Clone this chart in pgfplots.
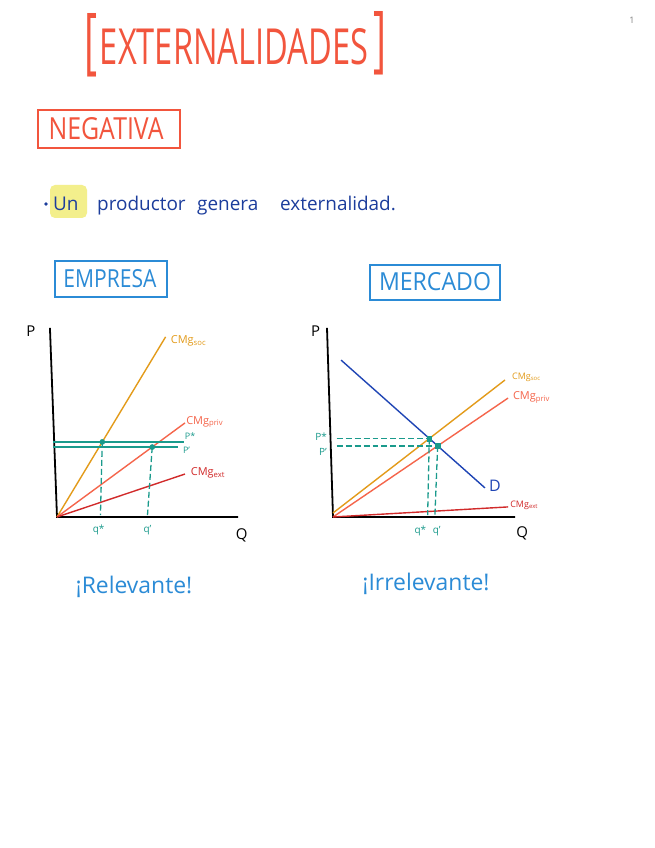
\documentclass[border=0pt]{standalone}
\usepackage{pgfplots}
\pgfplotsset{compat=1.18}
\usepackage{fontspec}
\setmainfont{Open Sans}
\definecolor{titlered}{HTML}{F2553D}
\definecolor{darkblue}{HTML}{1C3D9C}
\definecolor{hlyellow}{HTML}{F3EF8C}
\definecolor{lightblue}{HTML}{2B8BD6}
\definecolor{socorange}{HTML}{E39B1A}
\definecolor{privred}{HTML}{F5654B}
\definecolor{extred}{HTML}{D12A2A}
\definecolor{tealc}{HTML}{1A9A8C}
\definecolor{dblue}{HTML}{1F45B5}
\pgfplotsset{
  econ/.style={x=18.1bp, y=19bp, xmin=0, xmax=10, ymin=0, ymax=10,
    hide axis, clip=false, anchor=south west},
  curve/.style={no marks, line width=1.4pt},
  tdash/.style={no marks, tealc, line width=1.3pt, dash pattern=on 6pt off 3pt},
}
\begin{document}
\begin{tikzpicture}[x=1bp,y=1bp]
\fill[white] (0,0) rectangle (655,848);
\useasboundingbox (0,0) rectangle (655,848);
% page number
\node[gray, font=\fontsize{9}{10}\selectfont] at (632,828) {1};
% title
\node[titlered] at (91,803) {\resizebox{13bp}{52bp}{[}};
\node[titlered] at (234,801) {\resizebox{268bp}{36bp}{EXTERNALIDADES}};
\node[titlered] at (380,805) {\resizebox{13bp}{52bp}{]}};
% negativa
\draw[titlered, line width=1.2pt] (38,738) rectangle (180,700);
\node[titlered] at (106,719) {\resizebox{115bp}{22bp}{NEGATIVA}};
% bullet line
\fill[hlyellow, rounded corners=5pt] (50,630) rectangle (87,663);
\fill[darkblue] (46,644) circle (1.8);
\begin{scope}[every node/.style={darkblue, anchor=base west, inner sep=0pt, font=\fontsize{19}{22}\selectfont}]
\node at (53,637) {Un};
\node at (97,637) {productor};
\node at (197,637) {genera};
\node at (280,637) {externalidad.};
\end{scope}
% empresa / mercado
\draw[lightblue, line width=1.2pt] (55,587) rectangle (167,551);
\node[lightblue] at (110,569) {\resizebox{93bp}{18bp}{EMPRESA}};
\draw[lightblue, line width=1.2pt] (370,583) rectangle (500,548);
\node[lightblue] at (435,566) {\resizebox{112bp}{18bp}{MERCADO}};
% bottom remarks
\node[lightblue, font=\fontsize{23}{26}\selectfont] at (134,261) {¡Relevante!};
\node[lightblue, font=\fontsize{23}{26}\selectfont] at (426,264) {¡Irrelevante!};

% ---------- Left chart: Empresa ----------
\begin{axis}[econ, at={(57bp,331bp)}]
\addplot[curve, black, line width=1.8pt] coordinates {(-0.39,9.95) (0,0) (10,0)};
\addplot[curve, socorange] coordinates {(0,0) (6.0,9.48)};
\addplot[curve, privred] coordinates {(0,0) (7.07,4.95)};
\addplot[curve, extred] coordinates {(0,0) (7.07,2.26)};
\addplot[no marks, tealc, line width=1.5pt] coordinates {(-0.22,3.95) (7.0,3.95)};
\addplot[no marks, tealc, line width=1.5pt] coordinates {(-0.22,3.68) (6.7,3.68)};
\addplot[tdash] coordinates {(2.5,3.95) (2.4,0.1)};
\addplot[tdash] coordinates {(5.26,3.68) (5.0,0.1)};
\addplot[only marks, mark=*, tealc, mark size=2.6pt] coordinates {(2.5,3.95) (5.26,3.68)};
\node[socorange, anchor=west, font=\fontsize{11}{12}\selectfont] at (axis cs:6.1,9.25) {CMg$_{\mathrm{soc}}$};
\node[privred, anchor=west, font=\fontsize{11}{12}\selectfont] at (axis cs:6.95,5.0) {CMg$_{\mathrm{priv}}$};
\node[extred, anchor=west, font=\fontsize{11}{12}\selectfont] at (axis cs:7.2,2.3) {CMg$_{\mathrm{ext}}$};
\node[tealc, anchor=west, font=\fontsize{9}{10}\selectfont, inner sep=1pt] at (axis cs:7.0,4.25) {P*};
\node[tealc, anchor=west, font=\fontsize{9}{10}\selectfont, inner sep=1pt] at (axis cs:6.9,3.5) {P'};
\node[tealc, font=\fontsize{10}{11}\selectfont] at (axis cs:2.3,-0.7) {q*};
\node[tealc, font=\fontsize{10}{11}\selectfont] at (axis cs:5.0,-0.7) {q'};
\node[font=\fontsize{15}{16}\selectfont] at (axis cs:-1.45,9.8) {P};
\node[font=\fontsize{15}{16}\selectfont] at (axis cs:10.2,-0.95) {Q};
\end{axis}

% ---------- Right chart: Mercado ----------
\begin{axis}[econ, x=18.2bp, at={(333bp,331bp)}]
\addplot[curve, black, line width=1.8pt] coordinates {(-0.33,9.95) (0,0) (10,0)};
\addplot[curve, dblue] coordinates {(0.44,8.26) (8.35,1.53)};
\addplot[curve, socorange] coordinates {(0,0.21) (9.45,7.21)};
\addplot[curve, privred] coordinates {(0,0) (9.62,6.26)};
\addplot[curve, extred] coordinates {(0,0) (9.62,0.53)};
\addplot[tdash] coordinates {(0.2,4.13) (5.29,4.13)};
\addplot[tdash] coordinates {(0.2,3.74) (5.75,3.74)};
\addplot[tdash] coordinates {(5.29,4.13) (5.2,0.1)};
\addplot[tdash] coordinates {(5.75,3.74) (5.6,0.1)};
\addplot[only marks, mark=square*, tealc, mark size=2.3pt] coordinates {(5.29,4.13) (5.75,3.74)};
\node[socorange, anchor=west, font=\fontsize{9}{10}\selectfont] at (axis cs:9.65,7.35) {CMg$_{\mathrm{soc}}$};
\node[privred, anchor=west, font=\fontsize{11}{12}\selectfont] at (axis cs:9.7,6.3) {CMg$_{\mathrm{priv}}$};
\node[extred, anchor=west, font=\fontsize{9}{10}\selectfont] at (axis cs:9.55,0.6) {CMg$_{\mathrm{ext}}$};
\node[dblue, font=\fontsize{16}{17}\selectfont] at (axis cs:8.9,1.65) {D};
\node[tealc, anchor=east, font=\fontsize{10}{11}\selectfont] at (axis cs:-0.15,4.25) {P*};
\node[tealc, anchor=east, font=\fontsize{10}{11}\selectfont] at (axis cs:-0.15,3.4) {P'};
\node[tealc, font=\fontsize{10}{11}\selectfont] at (axis cs:4.8,-0.74) {q*};
\node[tealc, font=\fontsize{10}{11}\selectfont] at (axis cs:5.7,-0.74) {q'};
\node[font=\fontsize{15}{16}\selectfont] at (axis cs:-0.95,9.8) {P};
\node[font=\fontsize{15}{16}\selectfont] at (axis cs:10.4,-0.85) {Q};
\end{axis}
\end{tikzpicture}
\end{document}
